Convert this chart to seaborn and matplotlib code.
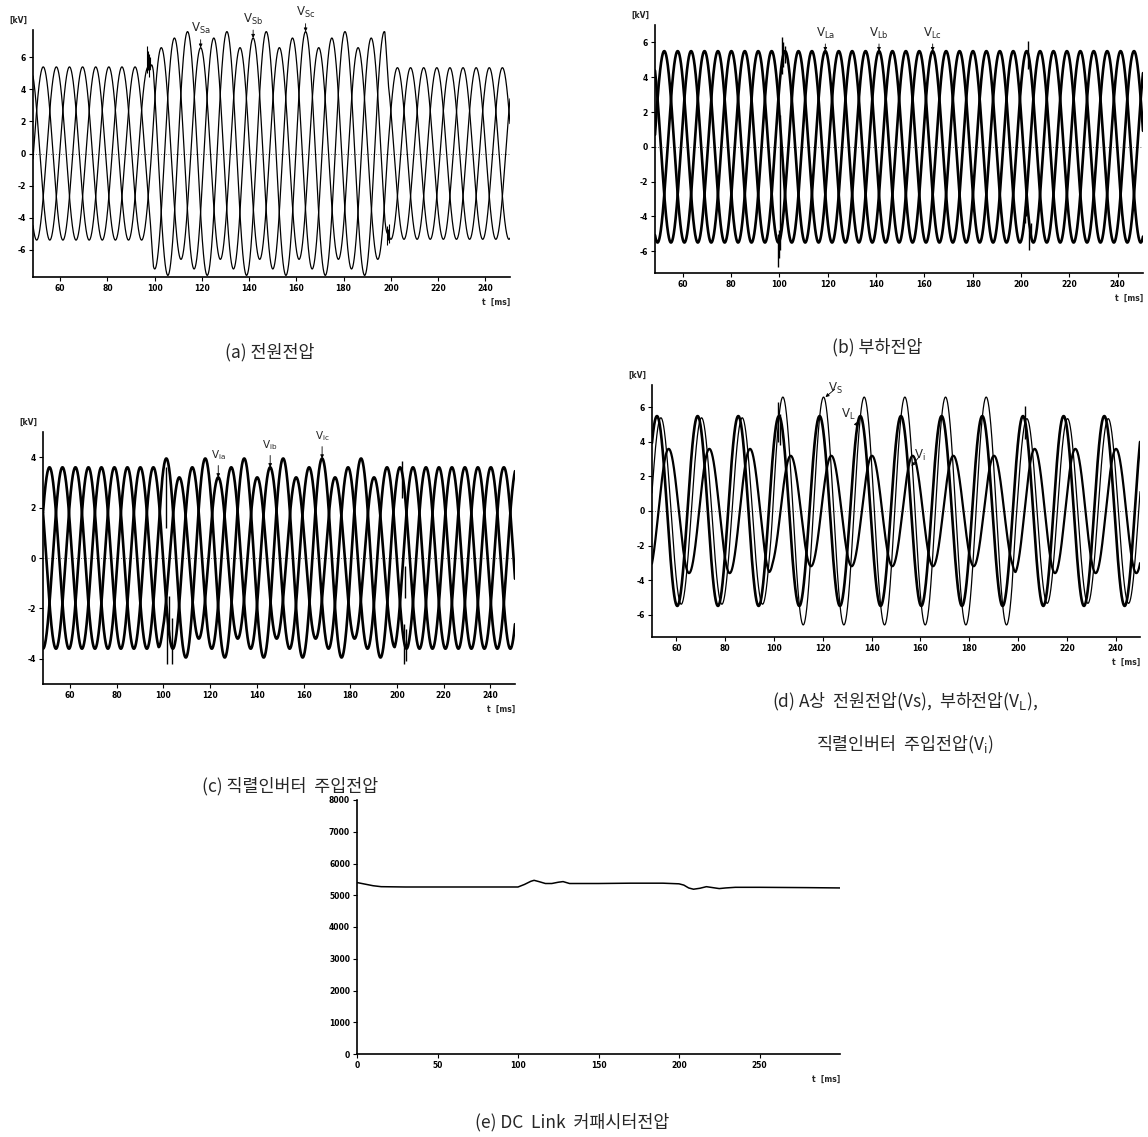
import numpy as np
import pandas as pd
import matplotlib
matplotlib.use("Agg")
import matplotlib.pyplot as plt
import seaborn as sns

# ---------------- data ----------------
FREQ_HZ = 60.0
T_START, T_END = 48.5, 250.5          # ms, window of panels (a)-(c)
SWELL_ON, SWELL_OFF = 98.0, 197.5     # ms, start / end of the voltage swell
RAMP_MS = 1.5

# (a) source voltage crest values [kV]: before, during, after swell
vs_amp_a = [5.4, 6.6, 5.35]
vs_amp_b = [5.4, 7.2, 5.35]
vs_amp_c = [5.4, 7.6, 5.35]
vs_peak_time = 119.5                  # crest of phase a labelled V_Sa

# (b) load voltage crest values [kV]
vl_amp = [5.5, 5.5, 5.5]
vl_peak_time = 119.0

# (c) series-inverter injected voltage crest values [kV]
vi_amp_a = [3.6, 3.2, 3.6]
vi_amp_b = [3.6, 3.6, 3.6]
vi_amp_c = [3.6, 3.95, 3.6]
vi_peak_time = 123.5

# switching transients (time, low, high) [ms, kV]
ga_t = [96.8, 97.2, 97.6, 98.0, 198.6, 199.0, 199.4]
ga_lo = [5.0, 5.2, 4.8, 5.3, -5.7, -5.4, -5.6]
ga_hi = [6.7, 6.4, 6.2, 6.0, -4.5, -4.7, -4.4]

gb_t = [99.6, 100.0, 100.4, 101.0, 101.6, 102.2, 201.6, 202.2, 202.8, 203.5, 204.2]
gb_lo = [-6.9, -6.4, -5.9, 4.2, 4.6, 4.8, -4.4, -4.0, 4.5, -5.9, -5.2]
gb_hi = [-5.0, -4.8, 1.8, 6.3, 6.0, 5.8, -3.4, -3.6, 6.1, -4.8, -4.4]

gc_t = [101.2, 101.6, 102.6, 103.5, 202.3, 202.8, 203.3, 203.9]
gc_lo = [1.2, -4.2, -3.0, -4.2, 2.4, -4.2, -1.6, -4.1]
gc_hi = [3.6, -2.2, -1.5, -2.4, 3.85, -2.6, -0.3, -2.8]

gd_t = [101.8, 102.4, 202.7]
gd_lo = [4.0, 3.8, 4.2]
gd_hi = [6.3, 5.6, 6.1]

# (e) DC link capacitor voltage [V]
dc_t = [0, 5, 10, 15, 30, 50, 100, 104, 108, 110, 113, 117, 121, 125, 128, 132,
        140, 150, 170, 190, 200, 203, 206, 209, 213, 217, 221, 225, 229, 235, 250, 280, 300]
dc_v = [5400, 5350, 5300, 5270, 5260, 5260, 5260, 5340, 5440, 5470, 5430, 5370, 5370,
        5410, 5430, 5370, 5370, 5370, 5380, 5380, 5360, 5320, 5230, 5190, 5220, 5270,
        5240, 5210, 5230, 5250, 5250, 5240, 5230]

# tick labels
wave_xticks = [60, 80, 100, 120, 140, 160, 180, 200, 220, 240]
dc_xticks = [0, 50, 100, 150, 200, 250]
dc_yticks = [0, 1000, 2000, 3000, 4000, 5000, 6000, 7000, 8000]

captions = ["(a) 전원전압", "(b) 부하전압", "(c) 직렬인버터  주입전압",
            "(d) A상  전원전압(Vs),  부하전압(V$_\\mathrm{L}$),",
            "직렬인버터  주입전압(V$_\\mathrm{i}$)",
            "(e) DC  Link  커패시터전압"]

# ---------------- style ----------------
sns.set_theme(style="ticks")
plt.rcParams["font.family"] = ["DejaVu Sans"]
plt.rcParams["axes.unicode_minus"] = False
plt.rcParams["mathtext.fontset"] = "dejavusans"

W, H = 1148, 1137
fig = plt.figure(figsize=(W / 100, H / 100), dpi=100)
fig.patch.set_facecolor("white")


def add_ax(left, right, top, bottom):
    return fig.add_axes([left / W, 1 - bottom / H, (right - left) / W, (bottom - top) / H])


omega = 2 * np.pi * FREQ_HZ / 1000.0
t = np.linspace(T_START, T_END, 6000)


def envelope(amps):
    return np.interp(t, [T_START, SWELL_ON, SWELL_ON + RAMP_MS, SWELL_OFF, SWELL_OFF + RAMP_MS, T_END],
                     [amps[0], amps[0], amps[1], amps[1], amps[2], amps[2]])


def wave(amps, peak_time, k):
    return envelope(amps) * np.cos(omega * (t - peak_time) - 2 * np.pi * k / 3)


def finish(ax):
    sns.despine(ax=ax)
    ax.set_facecolor("white")
    for s in ("left", "bottom"):
        ax.spines[s].set_linewidth(1.2)
        ax.spines[s].set_color("black")
    ax.tick_params(axis="both", length=3, width=0.8, labelsize=5.5, pad=2, colors="black")
    for lab in ax.get_xticklabels() + ax.get_yticklabels():
        lab.set_fontweight("bold")
    ax.set_xlabel("")
    ax.set_ylabel("")
    ax.annotate("t  [ms]", xy=(1, 0), xycoords="axes fraction", xytext=(0, -15),
                textcoords="offset points", ha="right", va="top", fontsize=5.5, fontweight="bold")


def style_wave_ax(ax, ylim, yticks, xlim=(T_START, T_END)):
    ax.set_xlim(*xlim)
    ax.set_ylim(*ylim)
    ax.set_xticks(wave_xticks)
    ax.set_yticks(yticks)
    ax.axhline(0, color="0.25", lw=0.6, ls=(0, (1, 2)), zorder=1)
    finish(ax)


def kv_label(ax):
    ax.annotate("[kV]", xy=(0, 1), xycoords="axes fraction", xytext=(-4, 4),
                textcoords="offset points", ha="right", va="bottom", fontsize=5.5, fontweight="bold")


def line(ax, y, lw):
    sns.lineplot(x=t, y=y, ax=ax, color="black", linewidth=lw, estimator=None, sort=False, legend=False)


def tag(ax, text, xt, yt, xy, size=8.5):
    ax.annotate(text, xy=xy, xytext=(xt, yt), ha="center", va="bottom", fontsize=size,
                annotation_clip=False,
                arrowprops=dict(arrowstyle="-|>", lw=0.6, color="black", mutation_scale=5,
                                shrinkA=0, shrinkB=0))


period = 1000.0 / FREQ_HZ
shift = period / 3

# (a) source voltage
axA = add_ax(33, 510, 30, 277)
for k, amps in enumerate([vs_amp_a, vs_amp_b, vs_amp_c]):
    line(axA, wave(amps, vs_peak_time, k), 0.9)
axA.vlines(ga_t, ga_lo, ga_hi, color="black", lw=0.8)
style_wave_ax(axA, (-7.7, 7.7), [-6, -4, -2, 0, 2, 4, 6])
kv_label(axA)
pa = vs_peak_time
pb = vs_peak_time + shift + period
pc = vs_peak_time + 2 * shift + 2 * period
tag(axA, r"$\mathrm{V_{Sa}}$", pa, vs_amp_a[1] + 0.7, (pa, vs_amp_a[1]))
tag(axA, r"$\mathrm{V_{Sb}}$", pb, vs_amp_b[1] + 0.7, (pb, vs_amp_b[1]))
tag(axA, r"$\mathrm{V_{Sc}}$", pc, vs_amp_c[1] + 0.7, (pc, vs_amp_c[1]))

# (b) load voltage
axB = add_ax(655, 1143, 25, 273)
for k in range(3):
    line(axB, wave(vl_amp, vl_peak_time, k), 1.9)
axB.vlines(gb_t, gb_lo, gb_hi, color="black", lw=1.0)
style_wave_ax(axB, (-7.25, 7.0), [-6, -4, -2, 0, 2, 4, 6])
kv_label(axB)
pa = vl_peak_time
pb = vl_peak_time + shift + period
pc = vl_peak_time + 2 * shift + 2 * period
tag(axB, r"$\mathrm{V_{La}}$", pa, vl_amp[1] + 0.6, (pa, vl_amp[1]))
tag(axB, r"$\mathrm{V_{Lb}}$", pb, vl_amp[1] + 0.6, (pb, vl_amp[1]))
tag(axB, r"$\mathrm{V_{Lc}}$", pc, vl_amp[1] + 0.6, (pc, vl_amp[1]))

# (c) injected voltage
axC = add_ax(43, 515, 432, 684)
for k, amps in enumerate([vi_amp_a, vi_amp_b, vi_amp_c]):
    line(axC, wave(amps, vi_peak_time, k), 1.9)
axC.vlines(gc_t, gc_lo, gc_hi, color="black", lw=1.0)
style_wave_ax(axC, (-5.0, 5.0), [-4, -2, 0, 2, 4])
kv_label(axC)
pa = vi_peak_time
pb = vi_peak_time + shift + period
pc = vi_peak_time + 2 * shift + 2 * period
tag(axC, r"$\mathrm{V_{ia}}$", pa, vi_amp_a[1] + 0.6, (pa, vi_amp_a[1]), 7.5)
tag(axC, r"$\mathrm{V_{ib}}$", pb, vi_amp_b[1] + 0.6, (pb, vi_amp_b[1]), 7.5)
tag(axC, r"$\mathrm{V_{ic}}$", pc, vi_amp_c[1] + 0.6, (pc, vi_amp_c[1]), 7.5)

# (d) phase A comparison
axD = add_ax(652, 1140, 385, 637)
line(axD, wave(vs_amp_a, vs_peak_time + 0.8, 0), 0.9)
line(axD, wave(vl_amp, vl_peak_time - 0.3, 0), 1.9)
line(axD, wave(vi_amp_a, vi_peak_time, 0), 1.6)
axD.vlines(gd_t, gd_lo, gd_hi, color="black", lw=1.0)
style_wave_ax(axD, (-7.3, 7.3), [-6, -4, -2, 0, 2, 4, 6], xlim=(50, 250))
kv_label(axD)
ps = vs_peak_time + 0.8
axD.annotate(r"$\mathrm{V_S}$", xy=(ps + 0.8, vs_amp_a[1]), xytext=(ps + 5.0, vs_amp_a[1] + 0.5),
             fontsize=8.5, ha="center", va="center", annotation_clip=False,
             arrowprops=dict(arrowstyle="-|>", lw=0.6, color="black", mutation_scale=5, shrinkA=1, shrinkB=0))
pl = vl_peak_time - 0.3 + period
axD.annotate(r"$\mathrm{V_L}$", xy=(pl - 1.0, 4.9), xytext=(pl - 5.0, 5.6),
             fontsize=8.5, ha="center", va="center", annotation_clip=False,
             arrowprops=dict(arrowstyle="-|>", lw=0.6, color="black", mutation_scale=5, shrinkA=1, shrinkB=0))
pi = vi_peak_time + 2 * period
axD.annotate(r"$\mathrm{V_i}$", xy=(pi - 0.5, 2.6), xytext=(pi + 3.0, 3.2),
             fontsize=8.5, ha="center", va="center", annotation_clip=False,
             arrowprops=dict(arrowstyle="-|>", lw=0.6, color="black", mutation_scale=5, shrinkA=1, shrinkB=0))

# (e) DC link voltage
axE = add_ax(357, 840, 800, 1054)
sns.lineplot(x=dc_t, y=dc_v, ax=axE, color="black", linewidth=1.1, estimator=None, sort=False, legend=False)
axE.set_xlim(0, 300)
axE.set_ylim(0, 8000)
axE.set_xticks(dc_xticks)
axE.set_yticks(dc_yticks)
finish(axE)

# captions
cap_font = ["Noto Sans CJK KR", "DejaVu Sans"]
fig.text(270 / W, 1 - 352 / H, captions[0], ha="center", va="center", fontsize=12.5, family=cap_font)
fig.text(877 / W, 1 - 347 / H, captions[1], ha="center", va="center", fontsize=12.5, family=cap_font)
fig.text(290 / W, 1 - 786 / H, captions[2], ha="center", va="center", fontsize=12.5, family=cap_font)
fig.text(905 / W, 1 - 702 / H, captions[3], ha="center", va="center", fontsize=12.5, family=cap_font)
fig.text(905 / W, 1 - 745 / H, captions[4], ha="center", va="center", fontsize=12.5, family=cap_font)
fig.text(572 / W, 1 - 1122 / H, captions[5], ha="center", va="center", fontsize=12.5, family=cap_font)

fig.savefig("out.png", dpi=100, facecolor="white")
